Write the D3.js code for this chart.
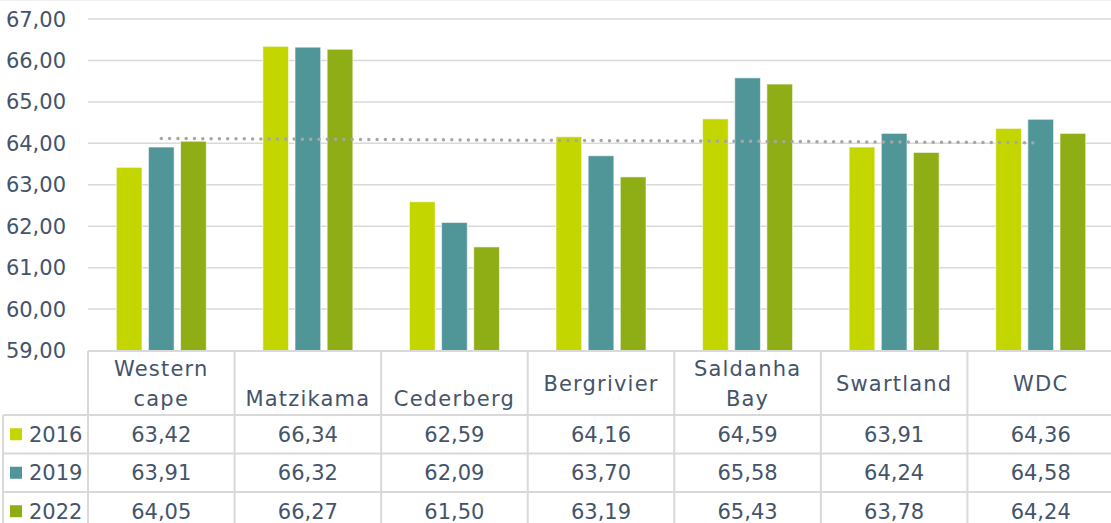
<!DOCTYPE html>
<html>
<head>
<meta charset="utf-8">
<script src="https://cdn.jsdelivr.net/npm/d3@7"></script>
<style>
  body { margin: 0; background: #fff; }
  svg { display: block; font-family: "DejaVu Sans", sans-serif; }
</style>
</head>
<body>
<svg width="1111" height="523"></svg>
<script>
// categories (label lines as shown in the table header)
var categories = ["Western cape", "Matzikama", "Cederberg", "Bergrivier", "Saldanha Bay", "Swartland", "WDC"];
var labelLines = [["Western", "cape"], ["", "Matzikama"], ["", "Cederberg"], ["Bergrivier"], ["Saldanha", "Bay"], ["Swartland"], ["WDC"]];
var years = ["2016", "2019", "2022"];
var v2016 = [63.42, 66.34, 62.59, 64.16, 64.59, 63.91, 64.36];
var v2019 = [63.91, 66.32, 62.09, 63.70, 65.58, 64.24, 64.58];
var v2022 = [64.05, 66.27, 61.50, 63.19, 65.43, 63.78, 64.24];
var yTicks = [59, 60, 61, 62, 63, 64, 65, 66, 67];

var series = [v2016, v2019, v2022];
var colors = ["#c4d600", "#509699", "#8fad15"];
var textColor = "#44546a";
var lineColor = "#d9d9d9";

var margin = ({top: 19, left: 88, right: 1114, bottom: 350.5});
var fmt = function(d) { return d.toFixed(2).replace(".", ","); };

var svg = d3.select("svg");

var x = d3.scaleBand()
  .domain(categories)
  .range([margin.left, margin.right]);

var xs = d3.scaleBand()
  .domain(years)
  .range([0, 90])
  .paddingInner(0.2);

var y = d3.scaleLinear()
  .domain([59, 67])
  .range([margin.bottom, margin.top]);

// faint chart border at top
svg.append("line").attr("x1", 0).attr("x2", 1111).attr("y1", 0.5).attr("y2", 0.5)
  .attr("stroke", "#f2f2f2").attr("stroke-width", 1);

// gridlines
svg.append("g").selectAll("line")
  .data(yTicks.filter(d => d > 59))
  .join("line")
  .attr("x1", margin.left).attr("x2", 1111)
  .attr("y1", d => y(d)).attr("y2", d => y(d))
  .attr("stroke", lineColor).attr("stroke-width", 1.5);

// y labels
svg.append("g").selectAll("text")
  .data(yTicks)
  .join("text")
  .attr("x", 66).attr("y", d => y(d))
  .attr("dy", "0.36em")
  .attr("text-anchor", "end")
  .attr("fill", textColor)
  .attr("font-size", 21)
  .text(fmt);

// bars
var bars = svg.append("g");
series.forEach(function(vals, si) {
  bars.append("g").selectAll("rect")
    .data(vals)
    .join("rect")
    .attr("x", (d, i) => x(categories[i]) + (x.bandwidth() - 90) / 2 + xs(years[si]))
    .attr("y", d => y(d))
    .attr("width", xs.bandwidth())
    .attr("height", d => y(59) - y(d))
    .attr("fill", colors[si])
    .attr("stroke", "rgba(255,255,255,0.6)")
    .attr("stroke-width", 1);
});

// linear trendline of the 2022 series
var n = v2022.length;
var xm = (n + 1) / 2;
var ym = d3.mean(v2022);
var sxy = d3.sum(v2022, (d, i) => (i + 1 - xm) * (d - ym));
var sxx = d3.sum(v2022, (d, i) => (i + 1 - xm) * (i + 1 - xm));
var slope = sxy / sxx;
var trend = [1, n].map(k => ({k: k, v: ym + slope * (k - xm)}));
svg.append("path")
  .datum(trend)
  .attr("d", d3.line()
    .x(d => x(categories[d.k - 1]) + x.bandwidth() / 2)
    .y(d => y(d.v)))
  .attr("fill", "none")
  .attr("stroke", "#a6a6a6")
  .attr("stroke-width", 3.5)
  .attr("stroke-linecap", "round")
  .attr("stroke-dasharray", "0,8.3");

// data table
var headerTop = 351, headerBottom = 415, rowH = 38.5;
var tableBottom = headerBottom + rowH * 3 + 10;
var t = svg.append("g").attr("stroke", lineColor).attr("stroke-width", 2);
t.append("line").attr("x1", margin.left).attr("x2", 1111).attr("y1", headerTop).attr("y2", headerTop);
[0, 1, 2].forEach(function(r) {
  t.append("line").attr("x1", 3).attr("x2", 1111)
    .attr("y1", headerBottom + r * rowH).attr("y2", headerBottom + r * rowH);
});
t.append("line").attr("x1", 3).attr("x2", 3).attr("y1", headerBottom).attr("y2", tableBottom);
t.selectAll(".v")
  .data(categories)
  .join("line")
  .attr("x1", d => x(d)).attr("x2", d => x(d))
  .attr("y1", headerTop).attr("y2", tableBottom);

// header labels
var hdr = svg.append("g").attr("fill", textColor).attr("font-size", 21)
  .attr("letter-spacing", 1.2).attr("text-anchor", "middle");
labelLines.forEach(function(lines, i) {
  lines.forEach(function(s, j) {
    hdr.append("text")
      .attr("x", x(categories[i]) + x.bandwidth() / 2)
      .attr("y", 383 + (j - (lines.length - 1) / 2) * 30)
      .attr("dy", "0.36em")
      .text(s);
  });
});

// rows
series.forEach(function(vals, si) {
  var cy = headerBottom + rowH * si + rowH / 2;
  svg.append("rect").attr("x", 10).attr("y", cy - 6).attr("width", 12).attr("height", 12).attr("fill", colors[si]);
  svg.append("text").attr("x", 29).attr("y", cy).attr("dy", "0.36em")
    .attr("fill", textColor).attr("font-size", 21).text(years[si]);
  svg.append("g").selectAll("text")
    .data(vals)
    .join("text")
    .attr("x", (d, i) => x(categories[i]) + x.bandwidth() / 2)
    .attr("y", cy).attr("dy", "0.36em")
    .attr("text-anchor", "middle")
    .attr("fill", textColor).attr("font-size", 21)
    .text(fmt);
});
</script>
</body>
</html>
